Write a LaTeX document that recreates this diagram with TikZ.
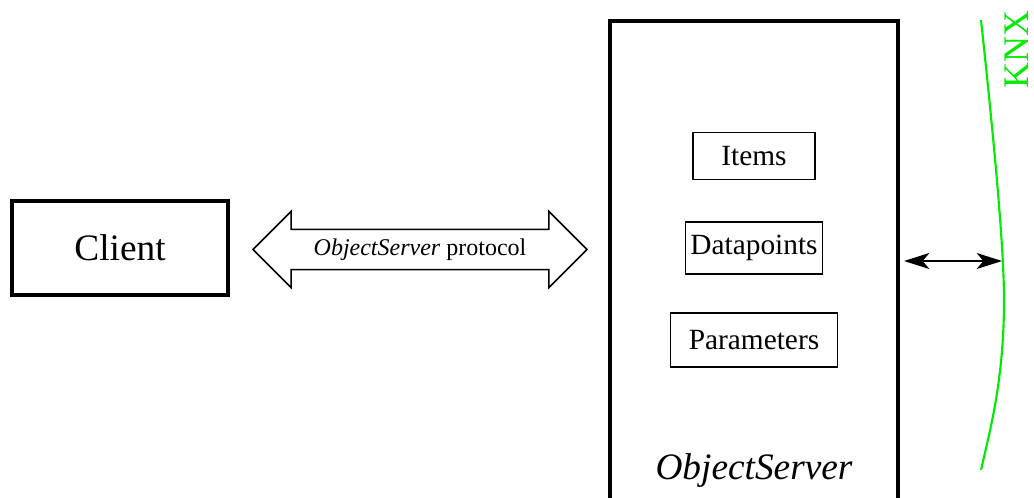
\documentclass[tikz,border=0pt]{standalone}
\usepackage{fontspec}
\setmainfont{Liberation Serif}
\usetikzlibrary{shapes.arrows,arrows.meta,positioning}
\definecolor{busgreen}{RGB}{0,235,0}

\begin{document}
\begin{tikzpicture}[x=0.75pt,y=-0.75pt,
  big/.style={draw,line width=3pt,font=\fontsize{28}{32}\selectfont},
  part/.style={draw,line width=0.8pt,font=\fontsize{22}{26}\selectfont,inner sep=0pt},
  proto/.style={draw,line width=1.1pt,double arrow,double arrow head extend=13.5pt,
    minimum height=250.5pt,minimum width=56pt,inner xsep=0pt,inner ysep=6.4pt,
    font=\fontsize{18}{20}\selectfont},
  link/.style={{Stealth[length=19pt,width=12pt,inset=5pt]}-{Stealth[length=19pt,width=12pt,inset=5pt]},line width=0.9pt},
  bus/.style={busgreen,line width=1.6pt},
  node distance=69pt,on grid]
  \clip (0,0) rectangle (1034,497);
  \node[big,minimum width=162pt,minimum height=70.5pt] (client) at (120,248) {Client};
  \node[proto] (protocol) at (420,249.5) {\textit{ObjectServer} protocol};
  \node[big,minimum width=216pt,minimum height=374pt] (server) at (754,270.5) {};
  \node[font=\fontsize{28}{32}\selectfont\itshape] (name) at (754,471) {ObjectServer};
  \node[part,minimum width=91.5pt,minimum height=35pt] (items) at (754,156) {Items};
  \node[part,minimum width=103pt,minimum height=39pt] (dp) [below = of items] {Datapoints};
  \node[part,minimum width=125pt,minimum height=40.5pt] (params) [below = of dp] {Parameters};
  % bus line
  \draw[bus] (981,20) .. controls (995,150) and (1004,250) .. (1004,300)
    .. controls (1004,380) and (990,430) .. (981,470);
  \coordinate (tap) at (1002,261);
  \node[rotate=90,text=busgreen,font=\fontsize{27}{30}\selectfont,inner sep=1pt] (knx) at (1017,49) {KNX};
  \draw[link] (tap -| server.east) ++(4,0) -- (tap);
\end{tikzpicture}
\end{document}
